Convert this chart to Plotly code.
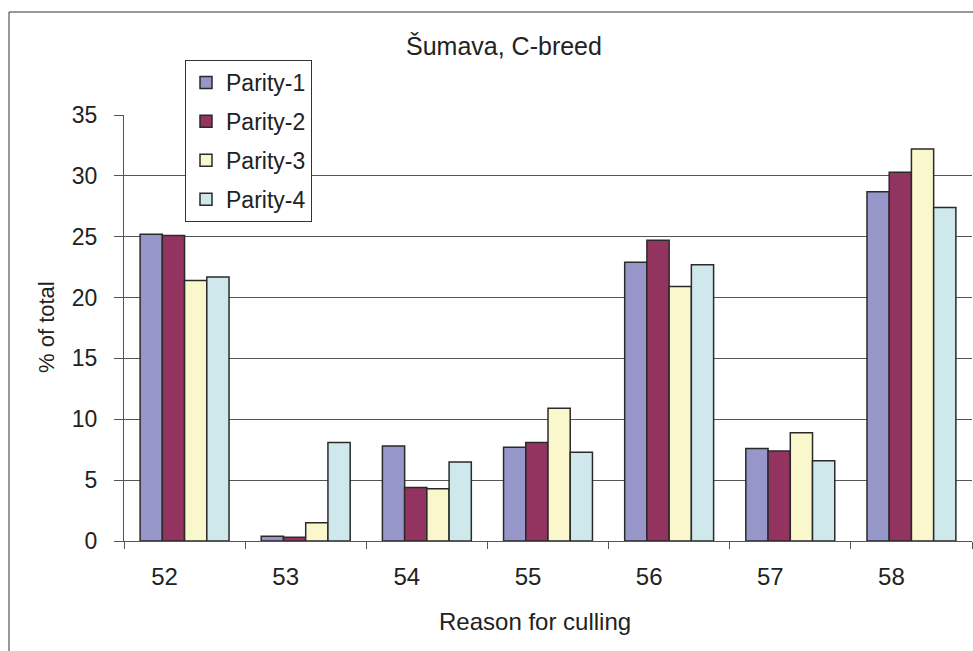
import plotly.graph_objects as go

# Reason-for-culling codes on the category axis
reasons = ["52", "53", "54", "55", "56", "57", "58"]

# Share of culled cows (% of total) per parity
parity_1 = [25.2, 0.4, 7.8, 7.7, 22.9, 7.6, 28.7]
parity_2 = [25.1, 0.3, 4.4, 8.1, 24.7, 7.4, 30.3]
parity_3 = [21.4, 1.5, 4.3, 10.9, 20.9, 8.9, 32.2]
parity_4 = [21.7, 8.1, 6.5, 7.3, 22.7, 6.6, 27.4]

series_names = ["Parity-1", "Parity-2", "Parity-3", "Parity-4"]
series_values = [parity_1, parity_2, parity_3, parity_4]
series_colors = ["#9696C8", "#933360", "#FAF7CC", "#CFE8EC"]

FONT = "Liberation Sans, Arial, sans-serif"
TEXT = "#222222"
LINE = "#555555"

fig = go.Figure()
for name, vals, col in zip(series_names, series_values, series_colors):
    fig.add_trace(go.Bar(
        x=reasons, y=vals, name=name, legendgroup=name,
        marker=dict(color=col, line=dict(color="#2a2a2a", width=1.5)),
    ))

W, H = 973, 651
L, R, T, B = 124, 1, 115, 110
pw, ph = W - L - R, H - T - B


def px(x):
    return (x - L) / pw


def py(y):
    return (H - B - y) / ph


def label(text, x, y, size, angle=0):
    return dict(text=text, x=px(x), y=py(y), xref="paper", yref="paper",
                xanchor="center", yanchor="middle", showarrow=False,
                textangle=angle, font=dict(family=FONT, size=size, color=TEXT))


fig.update_layout(
    width=W, height=H,
    margin=dict(l=L, r=R, t=T, b=B, pad=0),
    paper_bgcolor="white", plot_bgcolor="white",
    barmode="group", bargap=0.266, bargroupgap=0,
    font=dict(family=FONT, size=22, color=TEXT),
    showlegend=True,
    legend=dict(
        x=px(185), y=py(60), xanchor="left", yanchor="top",
        bordercolor="#333333", borderwidth=1, bgcolor="white",
        font=dict(family=FONT, size=23, color=TEXT),
        tracegroupgap=6, traceorder="grouped",
    ),
    xaxis=dict(
        type="category", showgrid=False, showline=True, linecolor=LINE, linewidth=1,
        ticks="outside", ticklen=7, tickcolor=LINE, tickson="boundaries",
        tickfont=dict(family=FONT, size=24, color=TEXT),
        ticklabelshift=-20, ticklabelstandoff=14,
    ),
    yaxis=dict(
        range=[0, 35], dtick=5, showgrid=True, gridcolor=LINE, gridwidth=1,
        showline=True, linecolor=LINE, linewidth=1, zeroline=False,
        ticks="outside", ticklen=9, tickcolor=LINE,
        tickfont=dict(family=FONT, size=23, color=TEXT),
        ticklabelstandoff=12,
    ),
    shapes=[dict(
        type="rect", xref="paper", yref="paper",
        x0=px(9), x1=1.05, y0=-0.5, y1=py(12),
        line=dict(color="#333333", width=1), fillcolor="rgba(0,0,0,0)", layer="above",
    )],
    annotations=[
        label("Šumava, C-breed", 504, 46, 25),
        label("Reason for culling", 535, 621, 24),
        label("% of total", 46, 327, 22, angle=-90),
    ],
)

fig.write_html("out.html")
